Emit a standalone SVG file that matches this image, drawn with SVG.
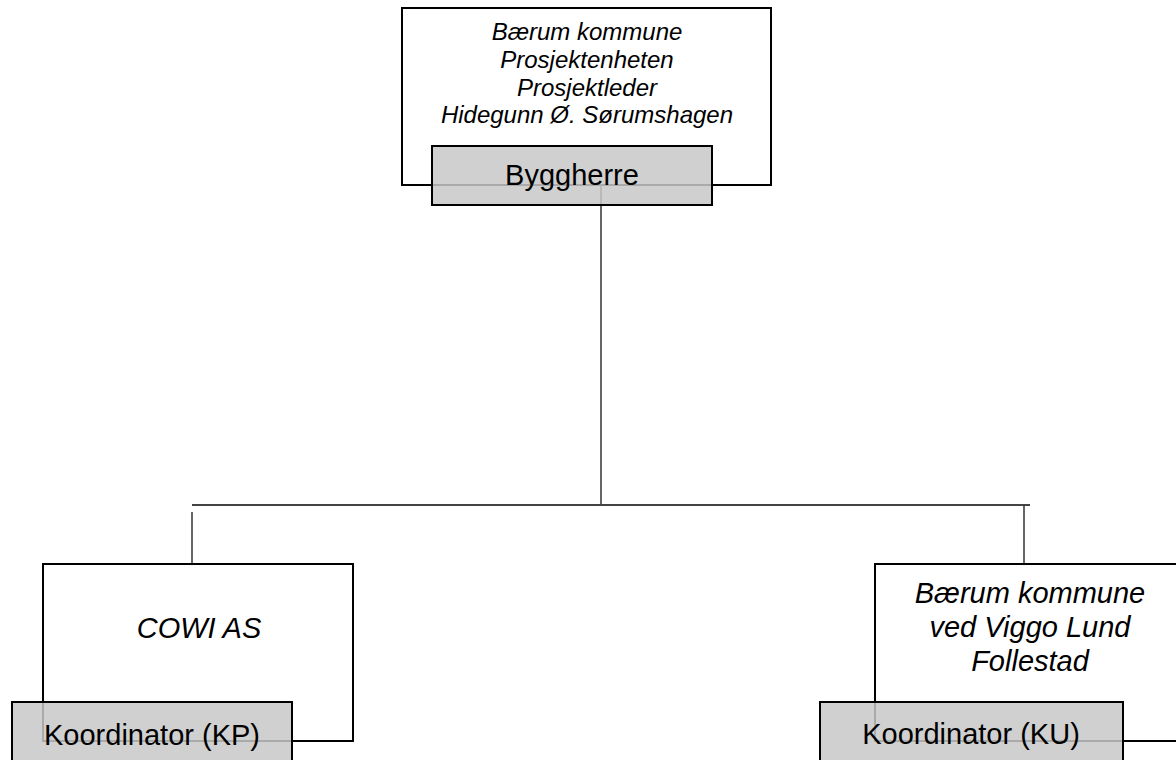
<svg xmlns="http://www.w3.org/2000/svg" width="1176" height="760" viewBox="0 0 1176 760">
<style>
.box{fill:#ffffff;stroke:#000000;stroke-width:2}
.lbl{fill:#c8c8c8;fill-opacity:0.85;stroke:#000000;stroke-width:2}
.it{font-family:"Liberation Sans",Arial,sans-serif;font-style:italic;fill:#000;text-anchor:middle}
.lt{font-family:"Liberation Sans",Arial,sans-serif;font-size:29px;fill:#000;text-anchor:middle}
.con{stroke:#333333;stroke-width:1.5;fill:none}
</style>
<rect x="0" y="0" width="1176" height="760" fill="#ffffff"/>
<g id="byggherre">
<rect class="box" x="402" y="8" width="369" height="177"/>
<text class="it" font-size="24" x="587" y="40">Bærum kommune</text>
<text class="it" font-size="24" x="587" y="68">Prosjektenheten</text>
<text class="it" font-size="24" x="587" y="96">Prosjektleder</text>
<text class="it" font-size="24" x="587" y="123">Hidegunn Ø. Sørumshagen</text>
</g>
<g id="connectors">
<line class="con" x1="601" y1="185" x2="601" y2="504"/>
<line x1="192" y1="505" x2="1030" y2="505" stroke="#444444" stroke-width="2"/>
<line class="con" x1="192" y1="512" x2="192" y2="564"/>
<line class="con" x1="1024" y1="505" x2="1024" y2="564"/>
</g>
<g id="byggherre-label">
<rect class="lbl" x="432" y="146" width="280" height="59"/>
<text class="lt" x="572" y="185">Byggherre</text>
</g>
<g id="kp">
<rect class="box" x="43" y="564" width="310" height="177"/>
<text class="it" font-size="29" x="199" y="638">COWI AS</text>
<rect class="lbl" x="12" y="702" width="280" height="70"/>
<text class="lt" x="152" y="745">Koordinator (KP)</text>
</g>
<g id="ku">
<rect class="box" x="875" y="564" width="320" height="177"/>
<text class="it" font-size="29" x="1030" y="603">Bærum kommune</text>
<text class="it" font-size="29" x="1030" y="637">ved Viggo Lund</text>
<text class="it" font-size="29" x="1030" y="671">Follestad</text>
<rect class="lbl" x="820" y="702" width="303" height="70"/>
<text class="lt" x="971" y="744">Koordinator (KU)</text>
</g>
</svg>
